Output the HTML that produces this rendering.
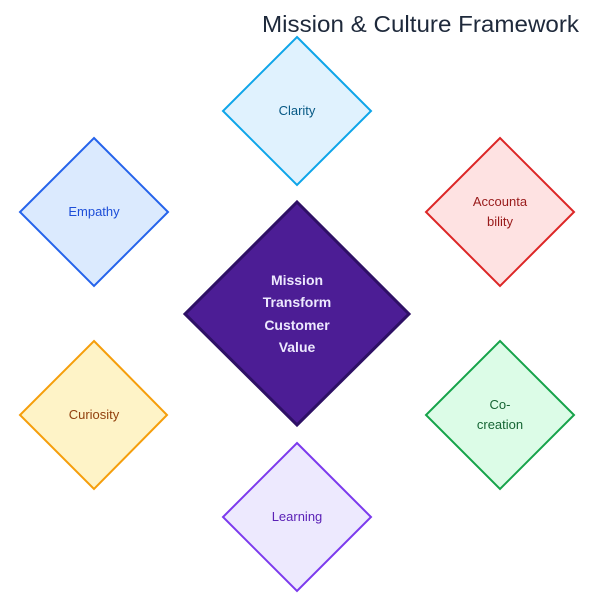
<!DOCTYPE html>
<html><head><meta charset="utf-8"><style>
html,body{margin:0;padding:0;background:#fff;}
svg{display:block;font-family:"Liberation Sans",sans-serif;}
</style></head><body>
<svg width="600" height="600" viewBox="0 0 600 600" xmlns="http://www.w3.org/2000/svg">
<text x="579" y="32" text-anchor="end" font-size="23" fill="#1e293b" textLength="317" lengthAdjust="spacingAndGlyphs">Mission &amp; Culture Framework</text>

<polygon points="297,37 371,111 297,185 223,111" fill="#e0f2fe" stroke="#0ea5e9" stroke-width="2"/>
<text x="297" y="115" text-anchor="middle" font-size="13" fill="#075985">Clarity</text>

<polygon points="94,138 168,212 94,286 20,212" fill="#dbeafe" stroke="#2563eb" stroke-width="2"/>
<text x="94" y="216" text-anchor="middle" font-size="13" fill="#1d4ed8">Empathy</text>

<polygon points="500,138 574,212 500,286 426,212" fill="#fee2e2" stroke="#dc2626" stroke-width="2"/>
<text x="500" y="206" text-anchor="middle" font-size="13" fill="#991b1b">Accounta</text>
<text x="500" y="226" text-anchor="middle" font-size="13" fill="#991b1b">bility</text>

<polygon points="94,341 167,415 94,489 20,415" fill="#fef3c7" stroke="#f59e0b" stroke-width="2"/>
<text x="94" y="419" text-anchor="middle" font-size="13" fill="#92400e">Curiosity</text>

<polygon points="500,341 574,415 500,489 426,415" fill="#dcfce7" stroke="#16a34a" stroke-width="2"/>
<text x="500" y="409" text-anchor="middle" font-size="13" fill="#166534">Co-</text>
<text x="500" y="429" text-anchor="middle" font-size="13" fill="#166534">creation</text>

<polygon points="297,443 371,517 297,591 223,517" fill="#ede9fe" stroke="#7c3aed" stroke-width="2"/>
<text x="297" y="521" text-anchor="middle" font-size="13" fill="#5b21b6">Learning</text>

<polygon points="297,202 409,314 297,425 185,314" fill="#4c1d95" stroke="#2e1065" stroke-width="3"/>
<text x="297" y="285" text-anchor="middle" font-size="14" font-weight="bold" fill="#ede9fe">Mission</text>
<text x="297" y="307" text-anchor="middle" font-size="14" font-weight="bold" fill="#ede9fe">Transform</text>
<text x="297" y="330" text-anchor="middle" font-size="14" font-weight="bold" fill="#ede9fe">Customer</text>
<text x="297" y="352" text-anchor="middle" font-size="14" font-weight="bold" fill="#ede9fe">Value</text>
</svg>
</body></html>
